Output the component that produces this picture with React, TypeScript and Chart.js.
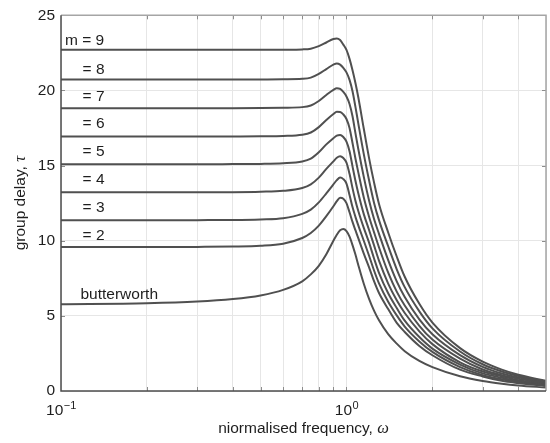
import React, { useEffect, useRef } from 'react';
import { Chart, registerables } from 'chart.js';

Chart.register(...registerables);

// normalised frequency samples
const OMEGA = [0.1, 0.2, 0.3, 0.4, 0.5, 0.6, 0.7, 0.75, 0.8, 0.85, 0.9, 0.925, 0.95, 0.975, 1.0, 1.025, 1.05, 1.075, 1.1, 1.15, 1.2, 1.25, 1.3, 1.4, 1.5, 1.6, 1.8, 2.0, 2.5, 3.0, 3.5, 4.0, 5.0];

// group delay
const BUTTERWORTH = [5.78, 5.84, 5.95, 6.12, 6.36, 6.73, 7.3, 7.76, 8.33, 9.1, 10.0, 10.4, 10.69, 10.78, 10.64, 10.27, 9.71, 9.08, 8.39, 7.14, 6.13, 5.33, 4.7, 3.78, 3.15, 2.65, 2.0, 1.59, 0.98, 0.67, 0.49, 0.37, 0.23];
const M2 = [9.58, 9.58, 9.59, 9.61, 9.66, 9.8, 10.18, 10.51, 11.0, 11.63, 12.29, 12.63, 12.86, 12.8, 12.5, 11.89, 11.25, 10.7, 10.17, 9.14, 8.23, 7.29, 6.52, 5.45, 4.53, 3.93, 3.0, 2.38, 1.42, 0.97, 0.68, 0.53, 0.33];
const M3 = [11.36, 11.36, 11.37, 11.38, 11.42, 11.5, 11.79, 12.07, 12.55, 13.15, 13.75, 14.03, 14.2, 14.1, 13.8, 13.05, 12.24, 11.59, 11.02, 10.0, 9.0, 8.0, 7.16, 5.94, 5.03, 4.29, 3.3, 2.6, 1.59, 1.05, 0.78, 0.59, 0.37];
const M4 = [13.22, 13.22, 13.22, 13.23, 13.26, 13.32, 13.51, 13.75, 14.2, 14.78, 15.28, 15.52, 15.62, 15.5, 15.2, 14.45, 13.5, 12.66, 11.98, 10.85, 9.87, 8.8, 7.86, 6.5, 5.52, 4.68, 3.59, 2.82, 1.76, 1.17, 0.88, 0.65, 0.415];
const M5 = [15.09, 15.09, 15.09, 15.1, 15.11, 15.15, 15.27, 15.46, 15.88, 16.41, 16.82, 17.0, 17.04, 16.9, 16.6, 15.96, 14.95, 13.99, 13.16, 11.77, 10.71, 9.67, 8.67, 7.15, 6.04, 5.19, 3.97, 3.12, 1.91, 1.3, 0.97, 0.72, 0.455];
const M6 = [16.93, 16.93, 16.93, 16.94, 16.95, 16.97, 17.05, 17.2, 17.56, 18.03, 18.43, 18.58, 18.57, 18.4, 18.1, 17.5, 16.5, 15.47, 14.55, 12.88, 11.6, 10.54, 9.56, 7.87, 6.61, 5.69, 4.34, 3.42, 2.15, 1.43, 1.05, 0.82, 0.51];
const M7 = [18.82, 18.82, 18.82, 18.82, 18.83, 18.85, 18.89, 19.0, 19.3, 19.7, 20.04, 20.15, 20.1, 19.9, 19.6, 19.1, 18.28, 17.16, 16.1, 14.25, 12.68, 11.43, 10.46, 8.71, 7.3, 6.26, 4.77, 3.78, 2.39, 1.61, 1.17, 0.91, 0.57];
const M8 = [20.72, 20.72, 20.72, 20.72, 20.73, 20.74, 20.77, 20.85, 21.1, 21.42, 21.72, 21.8, 21.72, 21.5, 21.2, 20.7, 19.95, 18.91, 17.81, 15.76, 14.02, 12.5, 11.37, 9.63, 8.1, 6.91, 5.3, 4.17, 2.63, 1.78, 1.3, 1.0, 0.625];
const M9 = [22.7, 22.7, 22.7, 22.7, 22.7, 22.71, 22.73, 22.78, 22.95, 23.19, 23.42, 23.46, 23.35, 23.05, 22.7, 22.1, 21.35, 20.5, 19.55, 17.45, 15.5, 13.85, 12.45, 10.55, 8.95, 7.6, 5.8, 4.55, 2.85, 1.95, 1.42, 1.08, 0.68];

const SERIES = [BUTTERWORTH, M2, M3, M4, M5, M6, M7, M8, M9];
const SERIES_NAMES = ['butterworth', 'm = 2', 'm = 3', 'm = 4', 'm = 5', 'm = 6', 'm = 7', 'm = 8', 'm = 9'];

// in-plot labels
const LABEL_TEXT = ['m = 9', '= 8', '= 7', '= 6', '= 5', '= 4', '= 3', '= 2', 'butterworth'];
const LABEL_OMEGA = [0.1033, 0.119, 0.119, 0.119, 0.119, 0.119, 0.119, 0.119, 0.117];
const LABEL_TAU = [23.3, 21.4, 19.6, 17.76, 15.9, 14.03, 12.17, 10.31, 6.41];

// axes
const X_MIN = 0.1;
const X_MAX = 5;
const X_GRID = [0.1, 0.2, 0.3, 0.4, 0.5, 0.6, 0.7, 0.8, 0.9, 1, 2, 3, 4, 5];
const X_LABEL_VALUES = [0.1, 1];
const X_LABEL_EXP = ['\u22121', '0'];
const Y_MIN = 0;
const Y_MAX = 25;
const Y_STEP = 5;
const Y_TICKS = [0, 5, 10, 15, 20, 25];

const SANS = "'Liberation Sans', Arial, Helvetica, sans-serif";
const SERIF = "'Liberation Serif', 'Times New Roman', serif";
const TEXT = '#1e1e1e';
const FS = 15.5;

export default function App() {
  const ref = useRef<HTMLCanvasElement | null>(null);

  useEffect(() => {
    document.body.style.margin = '0';
    const canvas = ref.current;
    if (!canvas) return;

    const overlay = {
      id: 'overlay',
      afterDraw(chart: any) {
        const { ctx, chartArea: a, scales } = chart;
        const xs = scales.x;
        const ys = scales.y;
        ctx.save();

        // inward tick marks
        ctx.strokeStyle = '#8c8c8c';
        ctx.lineWidth = 1;
        ctx.beginPath();
        for (const v of X_GRID) {
          if (v <= X_MIN || v >= X_MAX) continue;
          const px = Math.round(xs.getPixelForValue(v)) + 0.5;
          ctx.moveTo(px, a.bottom);
          ctx.lineTo(px, a.bottom - 4);
          ctx.moveTo(px, a.top);
          ctx.lineTo(px, a.top + 4);
        }
        for (const v of Y_TICKS) {
          if (v <= Y_MIN || v >= Y_MAX) continue;
          const py = Math.round(ys.getPixelForValue(v)) + 0.5;
          ctx.moveTo(a.left, py);
          ctx.lineTo(a.left + 4, py);
          ctx.moveTo(a.right, py);
          ctx.lineTo(a.right - 4, py);
        }
        ctx.stroke();

        // frame
        ctx.lineWidth = 1.5;
        ctx.strokeStyle = '#a5a5a5';
        ctx.beginPath();
        ctx.moveTo(a.left, a.top);
        ctx.lineTo(a.right, a.top);
        ctx.lineTo(a.right, a.bottom);
        ctx.stroke();
        ctx.strokeStyle = '#4c4c4c';
        ctx.beginPath();
        ctx.moveTo(a.left, a.top);
        ctx.lineTo(a.left, a.bottom);
        ctx.lineTo(a.right, a.bottom);
        ctx.stroke();

        // curve labels
        ctx.fillStyle = TEXT;
        ctx.font = `${FS}px ${SANS}`;
        ctx.textAlign = 'left';
        ctx.textBaseline = 'middle';
        LABEL_TEXT.forEach((t, i) => {
          ctx.fillText(t, xs.getPixelForValue(LABEL_OMEGA[i]), ys.getPixelForValue(LABEL_TAU[i]));
        });

        // x tick labels with superscripts
        ctx.textBaseline = 'alphabetic';
        X_LABEL_VALUES.forEach((v, i) => {
          const px = xs.getPixelForValue(v);
          ctx.font = `${FS}px ${SANS}`;
          const wBase = ctx.measureText('10').width;
          ctx.font = `${11}px ${SANS}`;
          const wExp = ctx.measureText(X_LABEL_EXP[i]).width;
          const left = px - (wBase + wExp) / 2;
          ctx.font = `${FS}px ${SANS}`;
          ctx.fillText('10', left, 415);
          ctx.font = `${11}px ${SANS}`;
          ctx.fillText(X_LABEL_EXP[i], left + wBase + 0.5, 409);
        });

        // x title
        const xPart = 'niormalised frequency, ';
        ctx.font = `${FS}px ${SANS}`;
        const w1 = ctx.measureText(xPart).width;
        ctx.font = `italic ${FS + 1}px ${SERIF}`;
        const w2 = ctx.measureText('\u03c9').width;
        const cx = (a.left + a.right) / 2;
        const xl = cx - (w1 + w2) / 2;
        ctx.font = `${FS}px ${SANS}`;
        ctx.fillText(xPart, xl, 433);
        ctx.font = `italic ${FS + 1}px ${SERIF}`;
        ctx.fillText('\u03c9', xl + w1, 433);

        // y title
        ctx.save();
        ctx.translate(21, (a.top + a.bottom) / 2);
        ctx.rotate(-Math.PI / 2);
        const yPart = 'group delay, ';
        ctx.font = `${FS}px ${SANS}`;
        const v1 = ctx.measureText(yPart).width;
        ctx.font = `italic ${FS + 1}px ${SERIF}`;
        const v2 = ctx.measureText('\u03c4').width;
        const yl = -(v1 + v2) / 2;
        ctx.textBaseline = 'middle';
        ctx.font = `${FS}px ${SANS}`;
        ctx.fillText(yPart, yl, 0);
        ctx.font = `italic ${FS + 1}px ${SERIF}`;
        ctx.fillText('\u03c4', yl + v1, 0);
        ctx.restore();

        ctx.restore();
      },
    };

    const chart = new Chart(canvas, {
      type: 'line',
      data: {
        datasets: SERIES.map((s, k) => ({
          label: SERIES_NAMES[k],
          data: OMEGA.map((w, i) => ({ x: w, y: s[i] })),
          borderColor: '#505050',
          borderWidth: 2,
          pointRadius: 0,
          fill: false,
          cubicInterpolationMode: 'monotone' as const,
        })),
      },
      options: {
        responsive: false,
        animation: false,
        devicePixelRatio: 1,
        layout: { padding: { top: 10, right: 4, left: 0, bottom: 0 } },
        plugins: { legend: { display: false }, tooltip: { enabled: false } },
        scales: {
          x: {
            type: 'logarithmic',
            min: X_MIN,
            max: X_MAX,
            afterBuildTicks: (s: any) => {
              s.ticks = X_GRID.map((v) => ({ value: v }));
            },
            afterFit: (s: any) => {
              s.height = 52;
            },
            ticks: { display: false },
            grid: { color: '#e6e6e6', lineWidth: 1, drawTicks: false },
            border: { display: false },
          },
          y: {
            type: 'linear',
            min: Y_MIN,
            max: Y_MAX,
            afterFit: (s: any) => {
              s.width = 61;
            },
            ticks: {
              stepSize: Y_STEP,
              padding: 6,
              color: TEXT,
              font: { family: SANS, size: FS },
            },
            grid: { color: '#e6e6e6', lineWidth: 1, drawTicks: false },
            border: { display: false },
          },
        },
      },
      plugins: [overlay],
    } as any);

    return () => chart.destroy();
  }, []);

  return (
    <div style={{ position: 'absolute', left: 0, top: 0, width: 550, height: 443, background: '#fff' }}>
      <canvas ref={ref} width={550} height={443} style={{ width: 550, height: 443, display: 'block' }} />
    </div>
  );
}
